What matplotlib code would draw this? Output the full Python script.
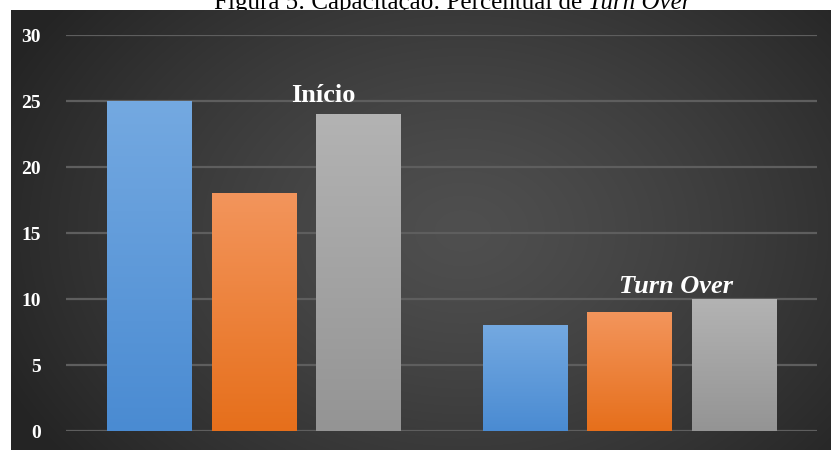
import numpy as np
import matplotlib
matplotlib.use("Agg")
import matplotlib.pyplot as plt
from matplotlib.colors import LinearSegmentedColormap, to_rgb

# ---- data ----
groups = ["Início", "Turn Over"]
series_names = ["Série 1", "Série 2", "Série 3"]
values = {
    "Série 1": [25, 8],
    "Série 2": [18, 9],
    "Série 3": [24, 10],
}
yticks = [0, 5, 10, 15, 20, 25, 30]
title_main = "Figura 5: Capacitação: Percentual de "
title_italic = "Turn Over"

# ---- styles ----
top_colors = ["#74a9e1", "#f3955c", "#b3b3b3"]
bot_colors = ["#4a8bd2", "#e66f1b", "#949494"]
serif = "Liberation Serif"

fig = plt.figure(figsize=(8.31, 4.5), dpi=100)
fig.patch.set_facecolor("white")

# dark background with radial gradient
bg = fig.add_axes([11 / 831, 0, 820 / 831, 440 / 450])
bg.set_axis_off()
ny, nx = 220, 410
yy, xx = np.mgrid[0:ny, 0:nx]
cx, cy = nx * 0.55, ny * 0.5
r = np.sqrt(((xx - cx) / (nx * 0.62)) ** 2 + ((yy - cy) / (ny * 0.85)) ** 2)
r = np.clip(r, 0, 1)
c_in = np.array(to_rgb("#4f4f4f"))
c_out = np.array(to_rgb("#242424"))
img = c_in[None, None, :] * (1 - r[..., None] ** 1.3) + c_out[None, None, :] * (r[..., None] ** 1.3)
bg.imshow(img, aspect="auto", extent=[0, 1, 0, 1], interpolation="bilinear")
bg.set_xlim(0, 1)
bg.set_ylim(0, 1)

# main axes
ax = fig.add_axes([66 / 831, (450 - 431) / 450, 751 / 831, 396 / 450])
ax.set_facecolor("none")
ax.set_xlim(-0.5, 1.5)
ax.set_ylim(0, 30)
for s in ax.spines.values():
    s.set_visible(False)
ax.set_yticks(yticks)
ax.set_yticklabels([str(t) for t in yticks], fontfamily=serif, fontweight="bold",
                   fontsize=14, color="white")
ax.tick_params(axis="y", length=0, pad=18)
ax.set_xticks([])
ax.yaxis.grid(True, color="#5e5e5e", linewidth=1.6)
ax.set_axisbelow(True)

x = np.arange(len(groups))
offsets = [-0.278, 0.0, 0.278]
width = 0.224
for i, name in enumerate(series_names):
    bars = ax.bar(x + offsets[i], values[name], width, color=bot_colors[i],
                  edgecolor="#2a2a2a", linewidth=0.6, zorder=2)
    cmap = LinearSegmentedColormap.from_list("g%d" % i, [bot_colors[i], top_colors[i]])
    grad = np.linspace(0, 1, 256).reshape(-1, 1)
    for b in bars:
        x0, y0 = b.get_x(), b.get_y()
        w, h = b.get_width(), b.get_height()
        im = ax.imshow(grad, cmap=cmap, aspect="auto", origin="lower",
                       extent=[x0, x0 + w, y0, y0 + h], zorder=3)
        im.set_clip_path(b)
ax.set_xlim(-0.5, 1.5)
ax.set_ylim(0, 30)

# group labels
ax.text(0.184, 24.9, groups[0], ha="center", va="baseline", fontfamily=serif,
        fontweight="bold", fontsize=19, color="white", zorder=5)
ax.text(1.124, 10.45, groups[1], ha="center", va="baseline", fontfamily=serif,
        fontweight="bold", fontstyle="italic", fontsize=19, color="white", zorder=5)

# title (cut off at the top)
fig.text(588 / 831, 1 - 9 / 450, title_main, ha="right", va="baseline",
         fontfamily=serif, fontsize=18, color="black", zorder=-1)
fig.text(588 / 831, 1 - 9 / 450, title_italic, ha="left", va="baseline",
         fontfamily=serif, fontstyle="italic", fontsize=18, color="black", zorder=-1)

fig.savefig("out.png", dpi=100, facecolor="white")
